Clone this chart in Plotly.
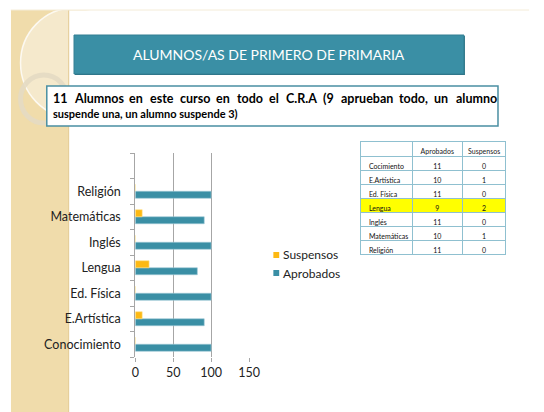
import plotly.graph_objects as go

W, H = 544, 412

# ---- data ----
categories = ["Conocimiento", "E.Artística", "Ed. Física", "Lengua", "Inglés", "Matemáticas", "Religión"]
aprobados_pct = [100, 90.9, 100, 81.8, 100, 90.9, 100]
suspensos_pct = [0, 9.1, 0, 18.2, 0, 9.1, 0]
x_ticks = [0, 50, 100, 150]

table_rows = ["Cocimiento", "E.Artística", "Ed. Física", "Lengua", "Inglés", "Matemáticas", "Religión"]
table_aprobados = [11, 10, 11, 9, 11, 10, 11]
table_suspensos = [0, 1, 0, 2, 0, 1, 0]
table_header = ["", "Aprobados", "Suspensos"]

title_text = "ALUMNOS/AS DE PRIMERO DE PRIMARIA"
note_line1 = "11 Alumnos en este curso en todo el C.R.A (9 aprueban todo, un alumno"
note_line2 = "suspende una, un alumno suspende 3)"

TEAL = "#3a8fa5"
ORANGE = "#fdb913"
FONT = "Lato"

def px(x):
    return x / W

def py(y):
    return 1 - y / H

ypos = list(range(len(categories)))

fig = go.Figure()
fig.add_trace(go.Bar(y=ypos, x=aprobados_pct, orientation="h", name="Aprobados",
                     marker=dict(color=TEAL, line=dict(color="#9fcad6", width=0.6)),
                     showlegend=False))
fig.add_trace(go.Bar(y=ypos, x=suspensos_pct, orientation="h", name="Suspensos",
                     marker=dict(color=ORANGE, line=dict(color="#fde08a", width=0.6)),
                     showlegend=False))

# table
fill_col = ["#ffff00" if r == "Lengua" else "white" for r in table_rows]
fig.add_trace(go.Table(
    domain=dict(x=[px(367), px(517)], y=[py(300), py(141)]),
    columnwidth=[53, 52, 45],
    header=dict(values=table_header, height=15,
                fill_color="white", line=dict(color="#8fc0d0", width=1),
                font=dict(family=FONT, size=7, color="#222"), align=["left", "center", "center"]),
    cells=dict(values=[table_rows, table_aprobados, table_suspensos], height=14,
               fill_color=[fill_col, fill_col, fill_col], line=dict(color="#8fc0d0", width=1),
               font=dict(family=FONT, size=7, color="#111"), align=["left", "center", "center"]),
))

shapes = []
# left decorative strip
shapes.append(dict(type="rect", xref="paper", yref="paper", x0=px(7), x1=px(67), y0=py(412), y1=py(10),
                   fillcolor="#f0dcab", line=dict(width=0), layer="below"))
shapes.append(dict(type="circle", xref="paper", yref="paper", x0=px(17), x1=px(127), y0=py(118), y1=py(8),
                   fillcolor="#f5e9cc", line=dict(color="rgba(255,255,255,0.8)", width=1.5), layer="below"))
shapes.append(dict(type="rect", xref="paper", yref="paper", x0=px(0), x1=px(7), y0=py(412), y1=py(0),
                   fillcolor="white", line=dict(width=0), layer="below"))
shapes.append(dict(type="rect", xref="paper", yref="paper", x0=px(0), x1=px(544), y0=py(10), y1=py(0),
                   fillcolor="white", line=dict(width=0), layer="below"))
shapes.append(dict(type="circle", xref="paper", yref="paper", x0=px(17), x1=px(65), y0=py(123), y1=py(75),
                   line=dict(color="rgba(228,218,195,0.9)", width=5), layer="below"))
# white content panel
shapes.append(dict(type="rect", xref="paper", yref="paper", x0=px(67), x1=px(544), y0=py(412), y1=py(10.5),
                   fillcolor="white", line=dict(width=0), layer="below"))
shapes.append(dict(type="line", xref="paper", yref="paper", x0=px(66.5), x1=px(66.5), y0=py(412), y1=py(10),
                   line=dict(color="#e4cd98", width=1), layer="below"))
# top thin line
shapes.append(dict(type="line", xref="paper", yref="paper", x0=px(7), x1=px(540), y0=py(10), y1=py(10),
                   line=dict(color="#f4ecd8", width=1), layer="below"))
# title banner
shapes.append(dict(type="rect", xref="paper", yref="paper", x0=px(73), x1=px(474), y0=py(75), y1=py(36),
                   fillcolor="#2c6f80", line=dict(width=0)))
shapes.append(dict(type="rect", xref="paper", yref="paper", x0=px(72), x1=px(473), y0=py(74), y1=py(35),
                   fillcolor=TEAL, line=dict(color="#337f93", width=1)))
# note box
shapes.append(dict(type="rect", xref="paper", yref="paper", x0=px(44), x1=px(508), y0=py(126), y1=py(86),
                   fillcolor="white", line=dict(color="#4a8fa2", width=1.5)))

annotations = [
    dict(text=title_text, x=px(272), y=py(54.5), xref="paper", yref="paper", showarrow=False,
         font=dict(family=FONT, size=14, color="white"), xanchor="center", yanchor="middle"),
    dict(text="<b>" + note_line2 + "</b>", x=px(48), y=py(113), xref="paper", yref="paper", showarrow=False,
         font=dict(family=FONT, size=11, color="black"), xanchor="left", yanchor="middle"),
]

# justified first line: estimate word widths (Lato Bold advance widths, per 1000 em) and spread words
ADV = {"a": 520, "b": 570, "c": 470, "d": 570, "e": 540, "l": 250, "m": 850, "n": 570, "o": 570,
       "p": 570, "r": 370, "s": 430, "t": 350, "u": 570, "i": 250, "v": 500, "1": 580, "9": 580,
       "A": 680, "C": 650, "R": 620, ".": 230, ",": 230, "(": 300, ")": 300}
FS1 = 12.5
words = note_line1.split(" ")
widths = [sum(ADV.get(ch, 550) for ch in w) * FS1 / 1000 for w in words]
left, right = 49, 505
gap = (right - left - sum(widths)) / (len(words) - 1)
cur = left
for w, wd in zip(words, widths):
    annotations.append(dict(text="<b>" + w + "</b>", x=px(cur), y=py(98), xref="paper", yref="paper",
                            showarrow=False, font=dict(family=FONT, size=FS1, color="black"),
                            xanchor="left", yanchor="middle", borderpad=0))
    cur += wd + gap

# legend (drawn manually to match spacing)
legend_items = [("Suspensos", ORANGE, 255), ("Aprobados", TEAL, 273)]
for name, col, yy in legend_items:
    shapes.append(dict(type="rect", xref="paper", yref="paper", x0=px(277), x1=px(283),
                       y0=py(yy + 3), y1=py(yy - 3), fillcolor=col, line=dict(width=0)))
    annotations.append(dict(text=name, x=px(285), y=py(yy), xref="paper", yref="paper", showarrow=False,
                            font=dict(family=FONT, size=12, color="#222"), xanchor="left", yanchor="middle"))

fig.update_layout(
    width=W, height=H, margin=dict(l=0, r=0, t=0, b=0),
    paper_bgcolor="white", plot_bgcolor="rgba(0,0,0,0)",
    barmode="group", bargap=0.45, bargroupgap=0,
    font=dict(family=FONT, size=12, color="#222"),
    shapes=shapes, annotations=annotations,
    xaxis=dict(domain=[px(135), px(252)], range=[0, 150], tickvals=x_ticks,
               showgrid=True, gridcolor="#a6a6a6", gridwidth=1, zeroline=False,
               showline=False, ticks="outside", ticklen=4, tickcolor="#a6a6a6",
               tickfont=dict(family=FONT, size=12.5, color="#222"), fixedrange=True),
    yaxis=dict(domain=[py(357), py(153)], range=[-0.5, 7.5], tickvals=ypos, ticktext=categories,
               showgrid=False, zeroline=False, showline=True, linecolor="#a6a6a6", ticks="",
               ticklabelstandoff=11,
               minor=dict(tickmode="array", tickvals=[i - 0.5 for i in range(len(categories) + 2)],
                          ticks="outside", ticklen=4, tickcolor="#a6a6a6", showgrid=False),
               tickfont=dict(family=FONT, size=12.5, color="#222"), fixedrange=True),
    showlegend=False,
)

fig.write_html("out.html")
